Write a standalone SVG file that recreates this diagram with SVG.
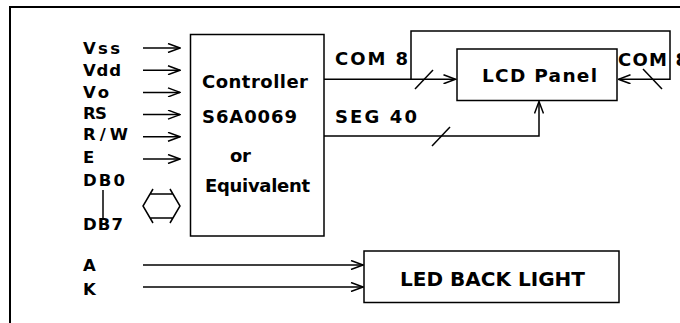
<svg xmlns="http://www.w3.org/2000/svg" width="680" height="323" viewBox="0 0 680 323">
<style>
text{font-family:"DejaVu Sans","Liberation Sans",Arial,sans-serif;font-weight:bold;fill:#000}
.lbl{font-size:16.5px}
.ctl{font-size:18px}
.big{font-size:18.5px}
.box{fill:#fff;stroke:#000;stroke-width:1.5}
.ln{fill:none;stroke:#000;stroke-width:1.5}
</style>
<defs>
<marker id="ah" viewBox="0 0 14 10" markerWidth="14" markerHeight="10" refX="13" refY="5" orient="auto" markerUnits="userSpaceOnUse">
<path d="M1,0.5 L13,5 L1,9.5" fill="none" stroke="#000" stroke-width="1.5"/>
</marker>
</defs>
<rect width="680" height="323" fill="#fff"/>
<path d="M10,323 V7 H680" fill="none" stroke="#000" stroke-width="2"/>

<g id="inputs">
<text class="lbl" x="83" y="54" textLength="37" lengthAdjust="spacing">Vss</text>
<text class="lbl" x="83" y="76" textLength="38" lengthAdjust="spacing">Vdd</text>
<text class="lbl" x="83" y="98" textLength="26" lengthAdjust="spacing">Vo</text>
<text class="lbl" x="83" y="119" textLength="24" lengthAdjust="spacing">RS</text>
<text class="lbl" x="83" y="140" textLength="45" lengthAdjust="spacing">R/W</text>
<text class="lbl" x="83" y="163" textLength="10" lengthAdjust="spacing">E</text>
<text class="lbl" x="83" y="186" textLength="42" lengthAdjust="spacing">DB0</text>
<text class="lbl" x="83" y="230" textLength="40" lengthAdjust="spacing">DB7</text>
<line class="ln" x1="103" y1="190" x2="103" y2="218"/>
<text class="lbl" x="83" y="271" textLength="14" lengthAdjust="spacing">A</text>
<text class="lbl" x="83" y="295" textLength="14" lengthAdjust="spacing">K</text>
</g>

<g id="controller">
<rect class="box" x="190.5" y="34.5" width="133.5" height="201.5"/>
<text class="ctl" x="202" y="88" textLength="106" lengthAdjust="spacing">Controller</text>
<text class="ctl" x="202" y="123" textLength="95" lengthAdjust="spacing">S6A0069</text>
<text class="ctl" x="230" y="162" textLength="21" lengthAdjust="spacing">or</text>
<text class="ctl" x="205" y="192" textLength="105" lengthAdjust="spacing">Equivalent</text>
</g>

<g id="lcd">
<rect class="box" x="457" y="49" width="160" height="51.5"/>
<text class="big" x="482" y="82" textLength="115" lengthAdjust="spacing">LCD  Panel</text>
</g>

<g id="led">
<rect class="box" x="364" y="251" width="255" height="51.5"/>
<text class="big" x="400" y="285.5" textLength="185" lengthAdjust="spacing" style="font-size:20px">LED  BACK  LIGHT</text>
</g>

<g id="connectors">
<line class="ln" x1="143" y1="48" x2="180" y2="48" marker-end="url(#ah)"/>
<line class="ln" x1="143" y1="70.2" x2="180" y2="70.2" marker-end="url(#ah)"/>
<line class="ln" x1="143" y1="92.4" x2="180" y2="92.4" marker-end="url(#ah)"/>
<line class="ln" x1="143" y1="114.6" x2="180" y2="114.6" marker-end="url(#ah)"/>
<line class="ln" x1="143" y1="136.8" x2="180" y2="136.8" marker-end="url(#ah)"/>
<line class="ln" x1="143" y1="159" x2="180" y2="159" marker-end="url(#ah)"/>
<path class="ln" d="M150,194 H173 M150,218 H173 M153,189 L143,206 L153,223 M170,189 L180,206 L170,223"/>
<line class="ln" x1="143" y1="265" x2="363" y2="265" marker-end="url(#ah)"/>
<line class="ln" x1="143" y1="287" x2="363" y2="287" marker-end="url(#ah)"/>
<path class="ln" d="M324,79.3 H455.5" marker-end="url(#ah)"/>
<path class="ln" d="M411,79.3 V31 H670 V79.3 H618.5" marker-end="url(#ah)"/>
<path class="ln" d="M324,136 H539 V101.5" marker-end="url(#ah)"/>
<line class="ln" x1="415" y1="89" x2="433" y2="70"/>
<line class="ln" x1="643" y1="69" x2="662" y2="89"/>
<line class="ln" x1="432" y1="146" x2="450" y2="127"/>
<text class="ctl" x="335" y="65" textLength="73" lengthAdjust="spacing">COM  8</text>
<text class="ctl" x="335" y="123" textLength="82" lengthAdjust="spacing">SEG  40</text>
<text class="ctl" x="618" y="66" textLength="70" lengthAdjust="spacing">COM  8</text>
</g>
</svg>
